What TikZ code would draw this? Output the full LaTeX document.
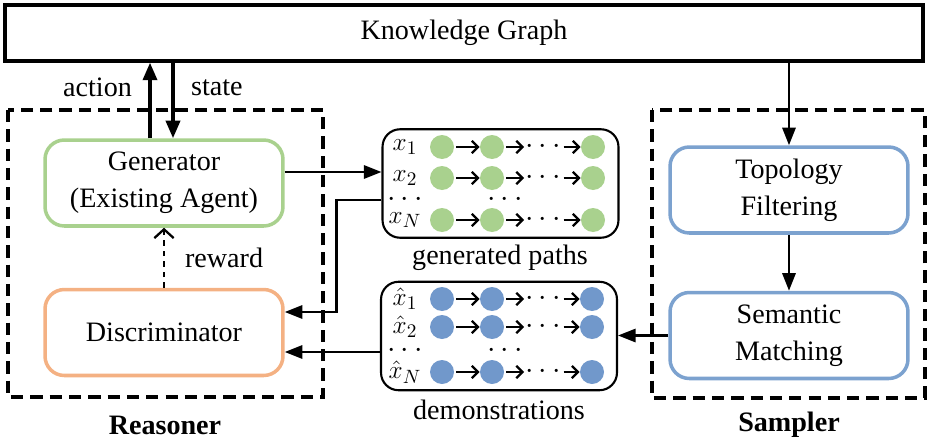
\documentclass[tikz,border=0pt]{standalone}
\usepackage{fontspec}
\setmainfont{Liberation Serif}
\usepackage{xcolor}
\usepackage{tikz}
\usetikzlibrary{arrows.meta}
\usetikzlibrary{calc}

\definecolor{gengreen}{RGB}{169,209,142}
\definecolor{discorange}{RGB}{244,177,131}
\definecolor{sampblue}{RGB}{124,162,207}
\definecolor{dotblue}{RGB}{113,152,203}

\tikzset{
	module/.style={draw=#1,line width=2pt,rounded corners=11pt,align=center,
		minimum width=4.76cm,minimum height=1.72cm,inner sep=2pt},
	groupbox/.style={draw,line width=1.9pt,dash pattern=on 7pt off 4pt},
	pathbox/.style={draw,line width=1.2pt,rounded corners=10pt,
		minimum width=4.72cm,minimum height=2.17cm},
	conn/.style={line width=1.4pt,-{Triangle[length=10pt,width=7.5pt]}},
	bigconn/.style={line width=2pt,-{Triangle[length=10pt,width=8pt]}},
	rowarrow/.style={line width=1.3pt,-{Straight Barb[length=3.5pt,width=7pt]},shorten <=1pt},
	pdot/.style={circle,fill=#1,minimum size=0.48cm,inner sep=0pt},
	rowlab/.style={inner sep=0pt,font=\fontsize{15}{16}\selectfont},
	rowdots/.style={inner sep=0.5pt},
	vdots/.style={inner sep=0pt},
}

\begin{document}
\begin{tikzpicture}[x=0.02cm,y=-0.02cm,font=\fontsize{16}{19}\selectfont]
	\useasboundingbox (0,0) rectangle (933,443);
	% top
	\node[draw,line width=1.9pt,minimum width=18.36cm,minimum height=1.12cm] (kg) at (464,33) {Knowledge Graph};
	% reasoner
	\draw[groupbox] (8,110) rectangle (323,397);
	\node[module=gengreen] (gen) at (164,183) {Generator\\[2pt](Existing Agent)};
	\node[module=discorange] (disc) at (164,332.5) {Discriminator};
	\node[font=\fontsize{16}{19}\selectfont\bfseries] (reasoner) at (165,425) {Reasoner};
	% sampler
	\draw[groupbox] (652,110) rectangle (925,398);
	\node[module=sampblue] (topo) at (789,190) {Topology\\[2pt]Filtering};
	\node[module=sampblue] (sem) at (789,335.5) {Semantic\\[2pt]Matching};
	\node[font=\fontsize{16}{19}\selectfont\bfseries] (sampler) at (789,425) {Sampler};
	% paths
	\node[pathbox] (gpaths) at (500.5,183.5) {};
	\node[pathbox] (demos) at (499,336) {};
	\node (gcap) at (500,258) {generated paths};
	\node (dcap) at (499,410) {demonstrations};
	\foreach \r/\yy/\lab in {1/147/x_1,2/178/x_2,3/220/x_N} {
		\node[rowlab] (gl\r) at (405,\yy) {$\lab$};
		\node[pdot=gengreen] (ga\r) at (442,\yy) {};
		\node[pdot=gengreen] (gb\r) at (492,\yy) {};
		\node[rowdots] (gm\r) at (543,\yy) {$\cdots$};
		\node[pdot=gengreen] (gc\r) at (593,\yy) {};
		\draw[rowarrow] (ga\r) -- (gb\r);
		\draw[rowarrow] (gb\r) -- (gm\r);
		\draw[rowarrow] (gm\r) -- (gc\r);
	}
	\node[vdots] (gv1) at (405,200) {$\cdots$};
	\node[vdots] (gv2) at (505,200) {$\cdots$};
	\foreach \r/\yy/\lab in {1/299/\hat{x}_1,2/327/\hat{x}_2,3/372/\hat{x}_N} {
		\node[rowlab] (dl\r) at (405,\yy) {$\lab$};
		\node[pdot=dotblue] (da\r) at (442,\yy) {};
		\node[pdot=dotblue] (db\r) at (492,\yy) {};
		\node[rowdots] (dm\r) at (543,\yy) {$\cdots$};
		\node[pdot=dotblue] (dc\r) at (592,\yy) {};
		\draw[rowarrow] (da\r) -- (db\r);
		\draw[rowarrow] (db\r) -- (dm\r);
		\draw[rowarrow] (dm\r) -- (dc\r);
	}
	\node[vdots] (dv1) at (405,351) {$\cdots$};
	\node[vdots] (dv2) at (505,351) {$\cdots$};
	% connectors
	\draw[bigconn] ([xshift=-0.28cm]gen.north) -- ([xshift=-0.28cm]gen.north |- kg.south)
		node[pos=0.67,left=6pt] (act) {action};
	\draw[bigconn] ([xshift=0.18cm]gen.north |- kg.south) -- ([xshift=0.18cm]gen.north)
		node[pos=0.33,right=6pt] (st) {state};
	\draw[line width=1.3pt,dashed,-{Straight Barb[length=5pt,width=11pt]}] (disc.north) -- (gen.south)
		node[midway,right=8pt] (rew) {reward};
	\draw[conn] ([yshift=0.22cm]gen.east) -- ([yshift=0.22cm]gen.east -| gpaths.west);
	\draw[conn] ([yshift=-0.33cm]gpaths.west) -- ++(-45,0) |- ([yshift=0.41cm]disc.east);
	\draw[conn] ([yshift=-0.32cm]demos.west) -- ([yshift=-0.32cm]demos.west -| disc.east);
	\draw[conn] (sem.west) -- (sem.west -| demos.east);
	\draw[conn] (kg.south -| topo.north) -- (topo.north);
	\draw[conn] (topo.south) -- (sem.north);
\end{tikzpicture}
\end{document}
